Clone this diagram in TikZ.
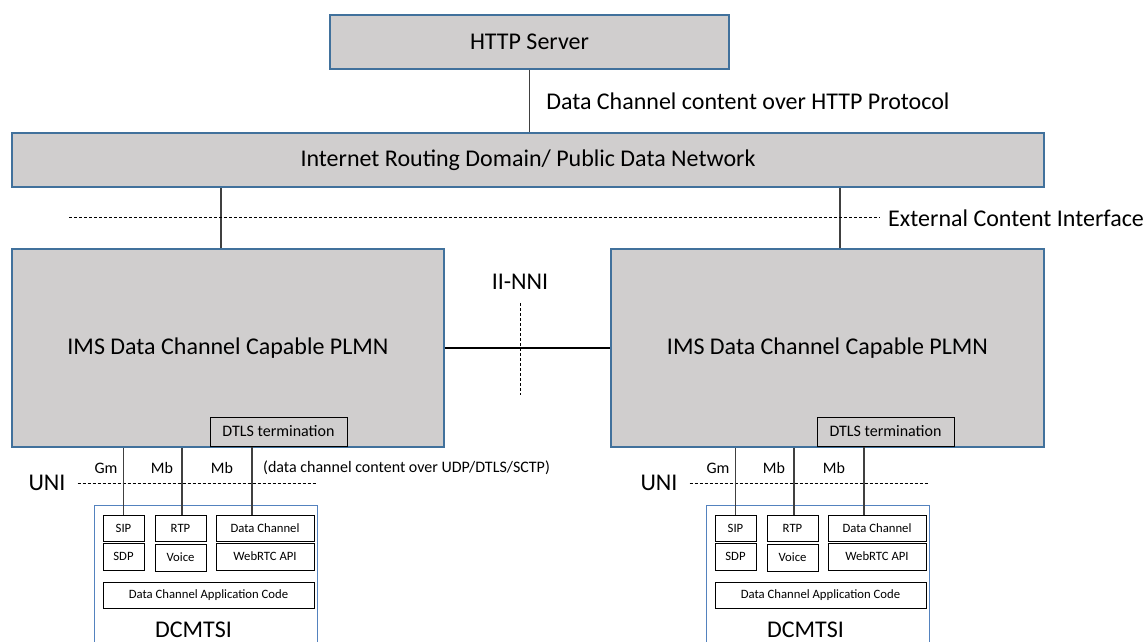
\documentclass[tikz,border=0pt]{standalone}
\usepackage{fontspec}
\setmainfont{Carlito}
\usetikzlibrary{positioning,calc}

\definecolor{boxgray}{RGB}{208,206,206}
\definecolor{boxblue}{RGB}{65,113,156}
\definecolor{uablue}{RGB}{84,130,190}

\tikzset{
  netbox/.style={draw=boxblue, line width=1.2pt, fill=boxgray, inner sep=0pt, font=\fontsize{24}{28}\selectfont},
  termbox/.style={draw=black, line width=1pt, fill=boxgray, inner sep=0pt, font=\fontsize{16}{19}\selectfont},
  protobox/.style={draw=black, line width=0.8pt, fill=white, inner sep=0pt, font=\fontsize{12.7}{15}\selectfont},
  uabox/.style={draw=uablue, line width=1pt, inner sep=0pt},
  link/.style={draw=black!75, line width=1.5pt},
  peer/.style={draw=black, line width=1.2pt},
  iface/.style={line width=0.8pt, dash pattern=on 3pt off 2pt},
  biglbl/.style={inner sep=0pt, font=\fontsize{24}{28}\selectfont},
  midlbl/.style={inner sep=0pt, font=\fontsize{16}{19}\selectfont}
}

\begin{document}
\begin{tikzpicture}[x=1pt, y=-1pt]
    \useasboundingbox (0,0) rectangle (1144,642);
    % Server and public network
    \node [netbox, minimum width=399, minimum height=54] (http) at (529.5,42) {HTTP Server};
    \node [netbox, minimum width=1032, minimum height=54] (idn) at (528,160) {Internet Routing Domain/ Public Data Network};
    \draw [link] (http.south) -- (http.south |- idn.north)
        node [midway, anchor=west, xshift=16pt, biglbl] {Data Channel content over HTTP Protocol};

    % The two PLMNs
    \node [netbox, minimum width=432, minimum height=198] (plmnL) at (228,348) {IMS Data Channel Capable PLMN};
    \node [netbox, minimum width=433, minimum height=198] (plmnR) at (827.5,348) {IMS Data Channel Capable PLMN};
    \draw [link] ([xshift=-7pt]plmnL.north) -- ([xshift=-7pt]plmnL.north |- idn.south);
    \draw [link] ([xshift=12.5pt]plmnR.north) -- ([xshift=12.5pt]plmnR.north |- idn.south);

    % External content interface
    \coordinate (eciStart) at (69,217);
    \node [biglbl, anchor=west] (eci) at (888,218) {External Content Interface};
    \draw [iface] (eciStart) -- ([xshift=-8pt]eci.west |- eciStart);

    % II-NNI
    \draw [peer] (plmnL.east) -- (plmnR.west);
    \node [biglbl] (nni) at (520,282) {II-NNI};
    \coordinate (nniTop) at (520,303);
    \coordinate (nniBot) at (520,395);
    \draw [iface] (nniTop) -- (nniBot);

    % DTLS termination and DCMTSI clients
    \foreach \s/\d/\t in {L/0/0, R/612/607} {
        \node [termbox, minimum width=137, minimum height=29] (dtls\s) at (278.5+\t,431.5) {DTLS termination};
        \begin{scope}[xshift=\d]
            \node [uabox, minimum width=223, minimum height=150] (ua\s) at (205.5,580) {};
            \node [biglbl] (uaname\s) at (193.5,630) {DCMTSI};
            \node [protobox, minimum width=41, minimum height=26] (sip\s) at (123.5,528) {SIP};
            \node [protobox, minimum width=41, minimum height=27] (sdp\s) at (123.5,556.5) {SDP};
            \node [protobox, minimum width=51, minimum height=26] (rtp\s) at (180.5,528) {RTP};
            \node [protobox, minimum width=51, minimum height=27] (voice\s) at (180.5,557.5) {Voice};
            \node [protobox, minimum width=98, minimum height=26] (dc\s) at (265,528) {Data Channel};
            \node [protobox, minimum width=98, minimum height=27] (webrtc\s) at (265,556.5) {WebRTC API};
            \node [protobox, minimum width=211, minimum height=26] (app\s) at (208.5,595) {Data Channel Application Code};
            \node [biglbl] (uni\s) at (47,483) {UNI};
            \coordinate (uniEnd\s) at (317,483);
            \node [midlbl] (gm\s) at (106,468) {Gm};
            \node [midlbl] (mb\s) at (162,468) {Mb};
            \node [midlbl] (mbdc\s) at (222,468) {Mb};
        \end{scope}
        \draw [iface] ([xshift=12pt]uni\s.east) -- (uniEnd\s);
        \draw [link] (sip\s.north) -- (sip\s.north |- plmn\s.south);
        \draw [link] ([xshift=1.5pt]rtp\s.north) -- ([xshift=1.5pt]rtp\s.north |- plmn\s.south);
        \draw [link] ([xshift=-13pt]dc\s.north) -- ([xshift=-13pt]dc\s.north |- dtls\s.south);
    }
    \node [midlbl, anchor=west] (udp) at (263,468) {(data channel content over UDP/DTLS/SCTP)};
\end{tikzpicture}
\end{document}
